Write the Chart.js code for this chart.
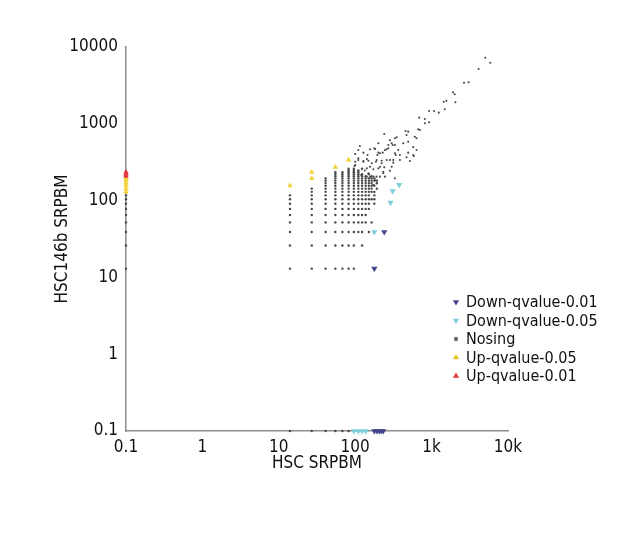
<!doctype html>
<html lang="en">
  <head>
    <meta charset="UTF-8" />
    <title>HSC vs HSC146b SRPBM</title>
    <script src="https://cdn.jsdelivr.net/npm/chart.js"></script>
    <style>
      html,
      body {
        margin: 0;
        padding: 0;
        background: #fff;
      }
      .chart-container {
        position: relative;
        width: 640px;
        height: 540px;
      }
    </style>
  </head>
  <body>
    <div class="chart-container">
      <canvas id="scatterChart" width="640" height="540"></canvas>
    </div>

    <script>
      // axis ticks
      const xTickValues = [0.1, 1, 10, 100, 1000, 10000]
      const xTickLabels = ['0.1', '1', '10', '100', '1k', '10k']
      const yTickValues = [0.1, 1, 10, 100, 1000, 10000]
      const yTickLabels = ['0.1', '1', '10', '100', '1000', '10000']

      const seriesNames = ['Down-qvalue-0.01', 'Down-qvalue-0.05', 'Nosing', 'Up-qvalue-0.05', 'Up-qvalue-0.01']

      // [HSC, HSC146b] ; 0.1 = value sitting on the axis
      const down001 = [[178, 13], [240, 39], [178, 0.1], [192, 0.1], [206, 0.1], [219, 0.1], [233, 0.1]]
      const down005 = [[178, 39], [290, 94], [309, 133], [377, 160], [96, 0.1], [110, 0.1], [123, 0.1], [137, 0.1]]
      const up005 = [
        [14, 156], [27, 195], [27, 234], [55, 273], [82, 338],
        [0.1, 130], [0.1, 143], [0.1, 156], [0.1, 169], [0.1, 182], [0.1, 195]
      ]
      const up001 = [[0.1, 208], [0.1, 221], [0.1, 234]]

      // Nosing, low counts: one row of HSC values per HSC146b value
      const gridY = [13, 26, 39, 52, 65, 78, 91, 104, 117, 130, 143, 156, 169, 182, 195, 208, 221, 234, 247, 260]
      const gridX = [
        [14, 27, 41, 55, 68, 82, 96],
        [14, 27, 41, 55, 68, 82, 96, 123],
        [14, 27, 41, 55, 68, 82, 96, 110, 123, 151],
        [14, 27, 41, 55, 68, 82, 96, 110, 123, 137, 164],
        [14, 27, 41, 55, 68, 82, 96, 110, 123, 137],
        [14, 27, 41, 55, 68, 82, 96, 110, 123, 137, 151],
        [14, 27, 41, 55, 68, 82, 96, 110, 123, 137, 151, 178],
        [14, 27, 41, 55, 68, 82, 96, 110, 123, 137, 151, 164, 178],
        [14, 27, 41, 55, 68, 82, 96, 110, 123, 137, 151, 178],
        [27, 41, 55, 68, 82, 96, 110, 123, 137, 151, 164, 178],
        [27, 41, 55, 68, 82, 96, 110, 123, 137, 151, 164, 192],
        [41, 55, 68, 82, 96, 110, 123, 137, 151, 164, 178],
        [41, 55, 68, 82, 96, 110, 123, 137, 151, 164, 192],
        [41, 55, 68, 82, 96, 110, 123, 137, 151, 164, 178, 192],
        [41, 55, 68, 82, 96, 110, 123, 137, 151, 164, 178],
        [55, 68, 82, 96, 110, 123, 137, 164],
        [55, 68, 82, 96, 110, 123, 151],
        [55, 68, 82, 96, 110],
        [82, 96, 110],
        [82, 96, 123]
      ]
      // Nosing on the axes
      const nosingLeftY = [13, 26, 39, 52, 65, 78, 91, 104, 117]
      const nosingBottomX = [14, 27, 41, 55, 68, 82]
      // Nosing, higher counts
      const nosingCloud = [
        [5046, 7260], [5861, 6250], [4125, 5170], [2654, 3430], [3055, 3470], [1906, 2570], [2006, 2420],
        [2050, 1905], [1442, 1940], [1563, 2000], [1486, 1545], [928, 1468], [1078, 1468], [1242, 1396],
        [815, 1155], [687, 1202], [815, 1015], [928, 1047], [667, 848], [702, 830], [457, 806], [494, 790],
        [470, 715], [604, 679], [635, 647], [494, 585], [425, 557], [331, 647], [309, 530], [271, 530],
        [300, 557], [331, 530], [575, 497], [635, 456], [494, 421], [470, 366], [586, 381], [520, 328],
        [258, 466], [229, 421], [201, 421], [182, 470], [178, 480], [245, 456], [271, 480], [366, 456],
        [195, 392], [211, 413], [331, 413], [339, 392], [385, 338], [315, 338], [258, 338], [285, 338],
        [222, 331], [222, 306], [191, 338], [187, 321], [165, 306], [149, 331], [142, 347], [128, 328],
        [128, 321], [110, 356], [110, 338], [100, 321], [100, 290], [98, 282], [142, 263], [156, 276],
        [211, 276], [300, 276], [315, 312], [240, 271], [201, 263], [173, 256], [134, 247], [285, 245],
        [233, 238], [233, 227], [149, 227], [120, 215], [142, 205], [156, 205], [173, 205], [190, 205],
        [211, 205], [245, 205], [182, 184], [331, 195], [191, 167], [173, 160], [349, 667], [385, 392],
        [575, 392], [240, 736], [285, 611], [201, 557], [110, 456], [100, 404], [128, 421], [156, 466],
        [145, 392], [115, 514]
      ]

      const toXY = (p) => ({ x: p[0], y: p[1] })
      const gridPoints = []
      gridY.forEach((y, i) => gridX[i].forEach((x) => gridPoints.push({ x: x, y: y })))
      const nosingPoints = gridPoints
        .concat(nosingLeftY.map((y) => ({ x: 0.1, y: y })))
        .concat(nosingBottomX.map((x) => ({ x: x, y: 0.1 })))
      const nosingData = nosingPoints.concat(nosingCloud.map(toXY))
      const nosingRadius = nosingPoints.map(() => 1.2).concat(nosingCloud.map(() => 1.05))

      const fontFamily = '"Liberation Sans Narrow", "DejaVu Sans Condensed", sans-serif'

      const colors = ['#45458f', '#7fd0dc', '#484848', '#f3d33a', '#e0343c']
      const legendColors = ['#45458f', '#7fd0dc', '#6a6a6a', '#efc22a', '#e0343c']
      const legendStyle = [
        { pointStyle: 'triangle', rotation: 180 },
        { pointStyle: 'triangle', rotation: 180 },
        { pointStyle: 'circle', rotation: 0 },
        { pointStyle: 'triangle', rotation: 0 },
        { pointStyle: 'triangle', rotation: 0 }
      ]

      // legend inside the plot, lower right
      const sideLegend = {
        id: 'sideLegend',
        afterDraw: (chart) => {
          const ctx = chart.ctx
          ctx.save()
          ctx.font = '16px ' + fontFamily
          ctx.textBaseline = 'middle'
          seriesNames.forEach((name, i) => {
            const y = 302 + i * 18.5
            ctx.fillStyle = legendColors[i]
            Chart.helpers.drawPoint(
              ctx,
              { pointStyle: legendStyle[i].pointStyle, rotation: legendStyle[i].rotation, radius: i === 2 ? 2.2 : 3.6, borderWidth: 0 },
              456,
              y
            )
            ctx.fillStyle = '#111'
            ctx.fillText(name, 466, y + 1)
          })
          ctx.restore()
        }
      }

      const ctx = document.getElementById('scatterChart').getContext('2d')
      const chart = new Chart(ctx, {
        type: 'scatter',
        data: {
          datasets: [
            {
              label: seriesNames[0],
              data: down001.map(toXY),
              pointStyle: 'triangle',
              rotation: 180,
              radius: 3.6,
              backgroundColor: colors[0],
              borderWidth: 0,
              order: 0
            },
            {
              label: seriesNames[1],
              data: down005.map(toXY),
              pointStyle: 'triangle',
              rotation: 180,
              radius: 3.6,
              backgroundColor: colors[1],
              borderWidth: 0,
              order: 1
            },
            {
              label: seriesNames[2],
              data: nosingData,
              pointStyle: 'circle',
              radius: nosingRadius,
              backgroundColor: colors[2],
              borderWidth: 0,
              order: 10
            },
            {
              label: seriesNames[3],
              data: up005.map(toXY),
              pointStyle: 'triangle',
              radius: 3.2,
              backgroundColor: colors[3],
              borderWidth: 0,
              order: 3
            },
            {
              label: seriesNames[4],
              data: up001.map(toXY),
              pointStyle: 'triangle',
              radius: 3.2,
              backgroundColor: colors[4],
              borderWidth: 0,
              order: 2
            }
          ]
        },
        options: {
          responsive: false,
          animation: false,
          clip: false,
          layout: { padding: { left: 48, right: 132, top: 47, bottom: 62 } },
          plugins: {
            legend: { display: false },
            tooltip: { enabled: false }
          },
          scales: {
            x: {
              type: 'logarithmic',
              min: 0.1,
              max: 10000,
              grid: { display: false, drawTicks: false },
              border: { display: true, color: '#8c8c8c', width: 1.5 },
              afterBuildTicks: (scale) => {
                scale.ticks = xTickValues.map((v) => ({ value: v }))
              },
              afterFit: (scale) => {
                scale.height = 47
              },
              ticks: {
                autoSkip: false,
                maxRotation: 0,
                padding: 6,
                color: '#111',
                font: { family: fontFamily, size: 17 },
                callback: (v) => xTickLabels[xTickValues.indexOf(v)]
              },
              title: {
                display: true,
                text: 'HSC SRPBM',
                color: '#111',
                font: { family: fontFamily, size: 17 }
              }
            },
            y: {
              type: 'logarithmic',
              min: 0.1,
              max: 10000,
              grid: { display: false, drawTicks: false },
              border: { display: true, color: '#8c8c8c', width: 1.5 },
              afterBuildTicks: (scale) => {
                scale.ticks = yTickValues.map((v) => ({ value: v }))
              },
              afterFit: (scale) => {
                scale.width = 78
              },
              ticks: {
                autoSkip: false,
                padding: 8,
                color: '#111',
                font: { family: fontFamily, size: 17 },
                callback: (v) => yTickLabels[yTickValues.indexOf(v)]
              },
              title: {
                display: true,
                text: 'HSC146b SRPBM',
                color: '#111',
                font: { family: fontFamily, size: 17 }
              }
            }
          }
        },
        plugins: [sideLegend]
      })
    </script>
  </body>
</html>
